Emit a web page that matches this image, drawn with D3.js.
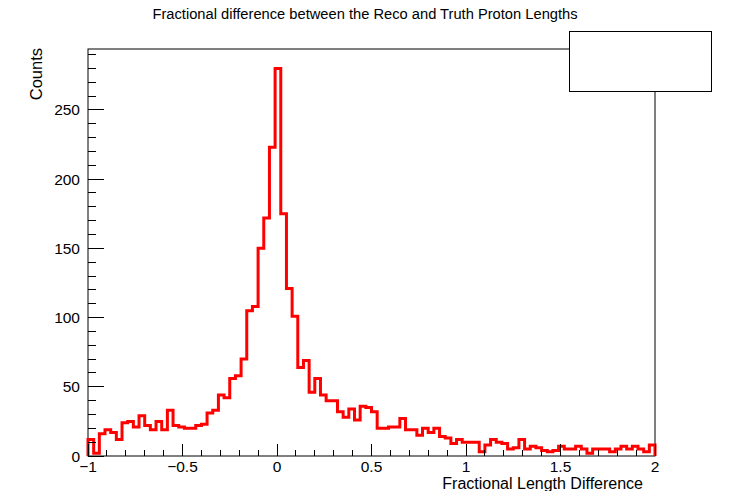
<!DOCTYPE html>
<html><head><meta charset="utf-8">
<script src="https://cdn.jsdelivr.net/npm/d3@7"></script>
<style>body{margin:0;background:#fff}svg{display:block;font-family:"Liberation Sans",Arial,sans-serif}</style>
</head><body>
<svg id="c" width="729" height="491"></svg>
<script>
const title = "Fractional difference between the Reco and Truth Proton Lengths";
const xTitle = "Fractional Length Difference";
const yTitle = "Counts";
const xMin = -1, xMax = 2, nBins = 100;
const counts = [12,2,16,19,17,12,24,25,21,29,22,19,25,19,33,22,21,20,20,22,
23,31,33,44,42,56,58,70,105,108,150,172,223,280,175,121,101,64,69,46,
56,44,40,40,32,28,34,26,36,35,32,20,20,21,21,27,19,19,15,20,
17,20,14,13,9,12,10,10,10,3,8,12,10,9,5,6,12,5,7,6,
4,3,4,7,5,5,7,5,2,5,5,5,3,5,7,5,7,5,3,8];
const xTicks = [-1,-0.5,0,0.5,1,1.5,2];
const xTickLabels = ["\u22121","\u22120.5","0","0.5","1","1.5","2"];
const yTicks = [0,50,100,150,200,250];

const svg = d3.select("#c");
const L=88, R=655, T=49, B=456;
const x = d3.scaleLinear().domain([xMin,xMax]).range([L,R]);
const yMax = d3.max(counts)*1.05;
const y = d3.scaleLinear().domain([0,yMax]).range([B,T]);
const bw = (xMax-xMin)/nBins;

// frame
svg.append("rect").attr("x",L).attr("y",T).attr("width",R-L).attr("height",B-T)
  .attr("fill","none").attr("stroke","#000").attr("stroke-width",1);

// histogram outline
const pts = [[x(xMin), y(0)]];
counts.forEach((c,i)=>{ pts.push([x(xMin+i*bw), y(c)]); pts.push([x(xMin+(i+1)*bw), y(c)]); });
pts.push([x(xMax), y(0)]);
svg.append("path").attr("d", d3.line()(pts)).attr("fill","none")
  .attr("stroke","#ff0000").attr("stroke-width",3).attr("stroke-linejoin","miter");

// x axis ticks
const xMinor = d3.range(-10,21).map(v=>v/10);
svg.append("g").selectAll("line").data(xMinor).join("line")
  .attr("x1",d=>x(d)).attr("x2",d=>x(d)).attr("y1",B)
  .attr("y2",d=>Math.abs(d*2-Math.round(d*2))<1e-6 ? B-12 : B-6)
  .attr("stroke","#000").attr("stroke-width",1).attr("shape-rendering","crispEdges");
svg.append("g").selectAll("text").data(xTicks).join("text")
  .attr("x",d=>x(d)).attr("y",472).attr("text-anchor","middle")
  .attr("font-size",15.5).text((d,i)=>xTickLabels[i]);

// y axis ticks
const yMinor = d3.range(0,291,10);
svg.append("g").selectAll("line").data(yMinor).join("line")
  .attr("y1",d=>y(d)).attr("y2",d=>y(d)).attr("x1",L)
  .attr("x2",d=>d%50===0 ? L+16 : L+8)
  .attr("stroke","#000").attr("stroke-width",1).attr("shape-rendering","crispEdges");
svg.append("g").selectAll("text").data(yTicks).join("text")
  .attr("x",80).attr("y",d=>y(d)+5.5).attr("text-anchor","end")
  .attr("font-size",15.5).text(d=>d);

// titles
svg.append("text").attr("x",365).attr("y",19).attr("text-anchor","middle")
  .attr("font-size",14.7).text(title);
svg.append("text").attr("x",643).attr("y",489).attr("text-anchor","end")
  .attr("font-size",16).text(xTitle);
svg.append("text").attr("transform","translate(42,48) rotate(-90)")
  .attr("text-anchor","end").attr("font-size",16.5).text(yTitle);

// empty legend box
svg.append("rect").attr("x",569.5).attr("y",31.5).attr("width",142).attr("height",60)
  .attr("fill","#fff").attr("stroke","#000").attr("stroke-width",1);
</script>
</body></html>
